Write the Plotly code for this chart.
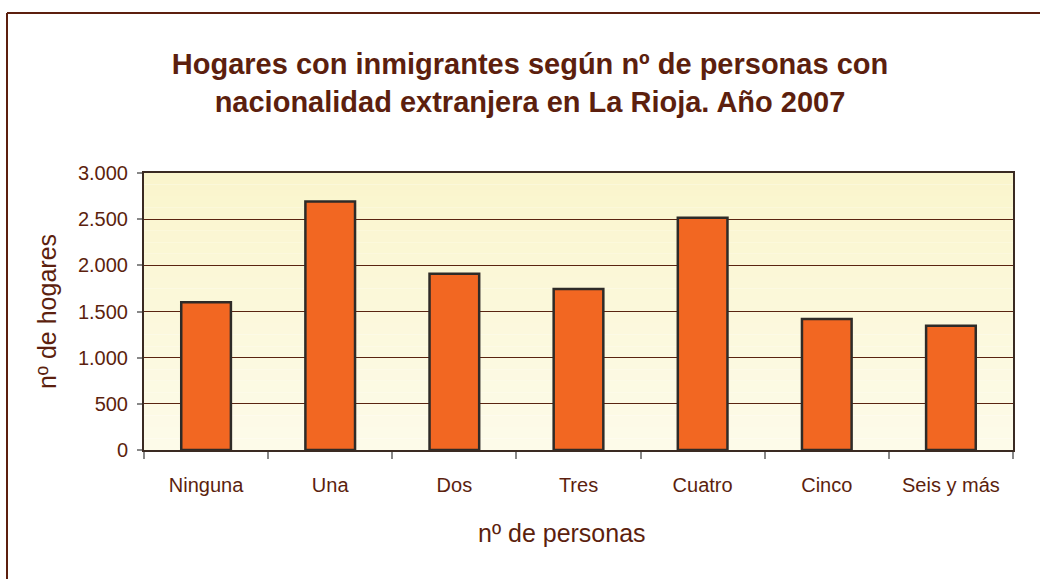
import plotly.graph_objects as go

categorias = ['Ninguna', 'Una', 'Dos', 'Tres', 'Cuatro', 'Cinco', 'Seis y más']
hogares = [1600, 2690, 1910, 1745, 2515, 1420, 1345]
y_ticks = [0, 500, 1000, 1500, 2000, 2500, 3000]
y_ticktext = ['0', '500', '1.000', '1.500', '2.000', '2.500', '3.000']

marron = '#5C1F0E'
naranja = '#F26722'
fuente = 'Liberation Sans, Arial, sans-serif'

fig = go.Figure()
fig.add_trace(go.Bar(
    x=categorias, y=hogares,
    marker=dict(color=naranja, line=dict(color='#2E2B28', width=2.5)),
    width=0.4,
))

# gradient background of the plot area (yellow at top, paler at bottom)
n = 24
top = (250, 245, 205)
bot = (253, 251, 233)
for i in range(n):
    t = i / (n - 1)
    c = tuple(round(top[k] + (bot[k] - top[k]) * t) for k in range(3))
    fig.add_shape(type='rect', xref='x domain', yref='y domain',
                  x0=0, x1=1, y0=1 - (i + 1) / n, y1=1 - i / n,
                  fillcolor='rgb(%d,%d,%d)' % c, line_width=0, layer='below')

# outer frame (top and left edges)
fig.add_shape(type='line', xref='paper', yref='paper',
              x0=(7 - 144) / 869, x1=(1040 - 144) / 869,
              y0=(450 - 13) / 277, y1=(450 - 13) / 277,
              line=dict(color=marron, width=2))
fig.add_shape(type='line', xref='paper', yref='paper',
              x0=(7 - 144) / 869, x1=(7 - 144) / 869,
              y0=(450 - 13) / 277, y1=(450 - 600) / 277,
              line=dict(color=marron, width=2))

fig.add_annotation(text='nº de personas', xref='paper', yref='paper',
                   x=(562 - 144) / 869, y=(450 - 533) / 277,
                   xanchor='center', yanchor='middle',
                   showarrow=False, font=dict(size=25, color=marron, family=fuente))

fig.update_layout(
    width=1040, height=579,
    margin=dict(l=144, r=27, t=173, b=129),
    paper_bgcolor='white', plot_bgcolor='rgba(0,0,0,0)',
    showlegend=False,
    font=dict(family=fuente, color=marron),
    title=dict(text='Hogares con inmigrantes según nº de personas con<br>nacionalidad extranjera en La Rioja. Año 2007',
               x=530 / 1040, xanchor='center', y=1 - 74 / 579, yanchor='middle',
               font=dict(size=29, color=marron, family=fuente, weight='bold')),
)
fig.update_xaxes(
    showgrid=False, tickson='boundaries', ticks='outside', ticklen=7,
    tickcolor='#888888', tickwidth=1.5,
    showline=True, linecolor='#3A2A22', linewidth=2, mirror=True,
    tickfont=dict(size=20, color=marron), ticklabelstandoff=16,
)
fig.update_yaxes(
    range=[0, 3000], tickvals=y_ticks, ticktext=y_ticktext,
    showgrid=True, gridcolor='#5A2410', gridwidth=1,
    ticks='outside', ticklen=5, tickcolor='#888888', tickwidth=1.5,
    showline=True, linecolor='#3A2A22', linewidth=2, mirror=True,
    tickfont=dict(size=20, color=marron), ticklabelstandoff=5,
    title=dict(text='nº de hogares', font=dict(size=25, color=marron), standoff=14),
    zeroline=False,
)

fig.write_html('out.html', config={'displayModeBar': False},
               post_script="document.body.style.margin='0';")
